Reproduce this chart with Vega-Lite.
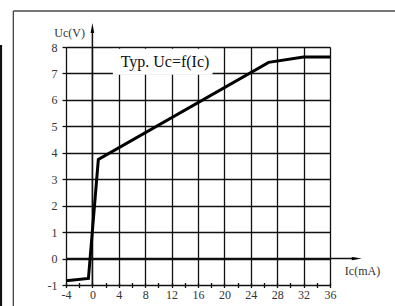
{
  "$schema": "https://vega.github.io/schema/vega-lite/v6.json",
  "autosize": {"type": "none"},
  "width": 264,
  "height": 238,
  "padding": {"left": 66, "top": 47, "right": 65, "bottom": 21},
  "background": "white",
  "config": {"view": {"stroke": null}, "font": "Liberation Serif"},
  "datasets": {
    "curve": [
      {"ic": -4, "uc": -0.84},
      {"ic": -0.6, "uc": -0.75},
      {"ic": 0.9, "uc": 3.75},
      {"ic": 26.7, "uc": 7.42},
      {"ic": 32, "uc": 7.62},
      {"ic": 36, "uc": 7.62}
    ],
    "frame_top": [{"x": -11.98, "x2": 50, "y": 9.36}],
    "frame_left": [{"x": -11.98, "y": 9.36, "y2": -3}],
    "edge_line": [{"x": -13.85, "y": 8.08, "y2": -3}],
    "yarrow": [{"x": 0, "y": -1, "y2": 8.6}],
    "xarrow": [{"y": 0, "x": -4, "x2": 40}],
    "yhead": [{"x": 0, "y": 8.72}],
    "xhead": [{"x": 40.05, "y": 0}],
    "labels": [
      {"x": -3.44, "y": 8.52, "text": "Uc(V)"},
      {"x": 40.92, "y": -0.47, "text": "Ic(mA)"}
    ],
    "titlebox": [{"x": 3.1, "x2": 18.2, "y": 6.95, "y2": 7.93, "text": "Typ. Uc=f(Ic)", "tx": 11.0, "ty": 7.45}]
  },
  "layer": [
    {
      "data": {"name": "curve"},
      "mark": {"type": "line", "strokeWidth": 0, "opacity": 0},
      "encoding": {
        "x": {
          "field": "ic", "type": "quantitative",
          "scale": {"domain": [-4, 36], "nice": false, "zero": false},
          "axis": {
            "values": [-4, -2, 0, 2, 4, 6, 8, 10, 12, 14, 16, 18, 20, 22, 24, 26, 28, 30, 32, 34, 36],
            "tickCount": 200,
            "labelExpr": "datum.value % 4 == 0 ? '' + datum.value : ''",
            "labelOverlap": false,
            "labelFlush": false,
            "labelBound": false,
            "title": null,
            "domain": false,
            "offset": -2.5,
            "tickSize": 5,
            "tickColor": "#111",
            "tickWidth": 1.3,
            "labelPadding": 2,
            "labelFont": "Liberation Serif",
            "labelFontSize": 12,
            "labelColor": "#333",
            "grid": true,
            "gridColor": "#111",
            "gridWidth": 1.3,
            "gridOpacity": {"condition": {"test": "datum.value % 4 != 0", "value": 0}, "value": 1}
          }
        },
        "y": {
          "field": "uc", "type": "quantitative",
          "scale": {"domain": [-1, 8], "nice": false, "zero": false},
          "axis": {
            "values": [-1, 0, 1, 2, 3, 4, 5, 6, 7, 8],
            "tickCount": 200,
            "labelExpr": "'' + datum.value",
            "labelOverlap": false,
            "labelFlush": false,
            "labelBound": false,
            "title": null,
            "domain": false,
            "tickSize": 4,
            "tickColor": "#111",
            "tickWidth": 1.3,
            "labelPadding": 5,
            "labelFont": "Liberation Serif",
            "labelFontSize": 12,
            "labelColor": "#333",
            "grid": true,
            "gridColor": "#111",
            "gridWidth": 1.3
          }
        }
      }
    },
    {
      "data": {"name": "frame_top"},
      "mark": {"type": "rule", "color": "#777", "strokeWidth": 2},
      "encoding": {
        "x": {"field": "x", "type": "quantitative"},
        "x2": {"field": "x2"},
        "y": {"field": "y", "type": "quantitative"}
      }
    },
    {
      "data": {"name": "frame_left"},
      "mark": {"type": "rule", "color": "#444", "strokeWidth": 1.3},
      "encoding": {
        "x": {"field": "x", "type": "quantitative"},
        "y": {"field": "y", "type": "quantitative"},
        "y2": {"field": "y2"}
      }
    },
    {
      "data": {"name": "edge_line"},
      "mark": {"type": "rule", "color": "#111", "strokeWidth": 2.2},
      "encoding": {
        "x": {"field": "x", "type": "quantitative"},
        "y": {"field": "y", "type": "quantitative"},
        "y2": {"field": "y2"}
      }
    },
    {
      "data": {"name": "yarrow"},
      "mark": {"type": "rule", "color": "#111", "strokeWidth": 1.5},
      "encoding": {
        "x": {"field": "x", "type": "quantitative"},
        "y": {"field": "y", "type": "quantitative"},
        "y2": {"field": "y2"}
      }
    },
    {
      "data": {"name": "xarrow"},
      "mark": {"type": "rule", "color": "#111", "strokeWidth": 1.5},
      "encoding": {
        "x": {"field": "x", "type": "quantitative"},
        "x2": {"field": "x2"},
        "y": {"field": "y", "type": "quantitative"}
      }
    },
    {
      "data": {"name": "yhead"},
      "mark": {"type": "point", "shape": "M0,-1L0.36,1L-0.36,1Z", "filled": true, "color": "#000", "size": 100, "opacity": 1},
      "encoding": {
        "x": {"field": "x", "type": "quantitative"},
        "y": {"field": "y", "type": "quantitative"}
      }
    },
    {
      "data": {"name": "xhead"},
      "mark": {"type": "point", "shape": "M1,0L-1,0.32L-1,-0.32Z", "filled": true, "color": "#000", "size": 100, "opacity": 1},
      "encoding": {
        "x": {"field": "x", "type": "quantitative"},
        "y": {"field": "y", "type": "quantitative"}
      }
    },
    {
      "data": {"name": "titlebox"},
      "mark": {"type": "rect", "color": "white", "opacity": 1},
      "encoding": {
        "x": {"field": "x", "type": "quantitative"},
        "x2": {"field": "x2"},
        "y": {"field": "y", "type": "quantitative"},
        "y2": {"field": "y2"}
      }
    },
    {
      "data": {"name": "titlebox"},
      "mark": {"type": "text", "font": "Liberation Serif", "fontSize": 16, "color": "#111", "align": "center", "baseline": "middle"},
      "encoding": {
        "x": {"field": "tx", "type": "quantitative"},
        "y": {"field": "ty", "type": "quantitative"},
        "text": {"field": "text"}
      }
    },
    {
      "data": {"name": "labels"},
      "mark": {"type": "text", "font": "Liberation Serif", "fontSize": 12, "color": "#333", "align": "center", "baseline": "middle"},
      "encoding": {
        "x": {"field": "x", "type": "quantitative"},
        "y": {"field": "y", "type": "quantitative"},
        "text": {"field": "text"}
      }
    },
    {
      "data": {"name": "curve"},
      "mark": {"type": "line", "color": "#000", "strokeWidth": 3, "strokeJoin": "miter"},
      "encoding": {
        "x": {"field": "ic", "type": "quantitative"},
        "y": {"field": "uc", "type": "quantitative"}
      }
    }
  ]
}
